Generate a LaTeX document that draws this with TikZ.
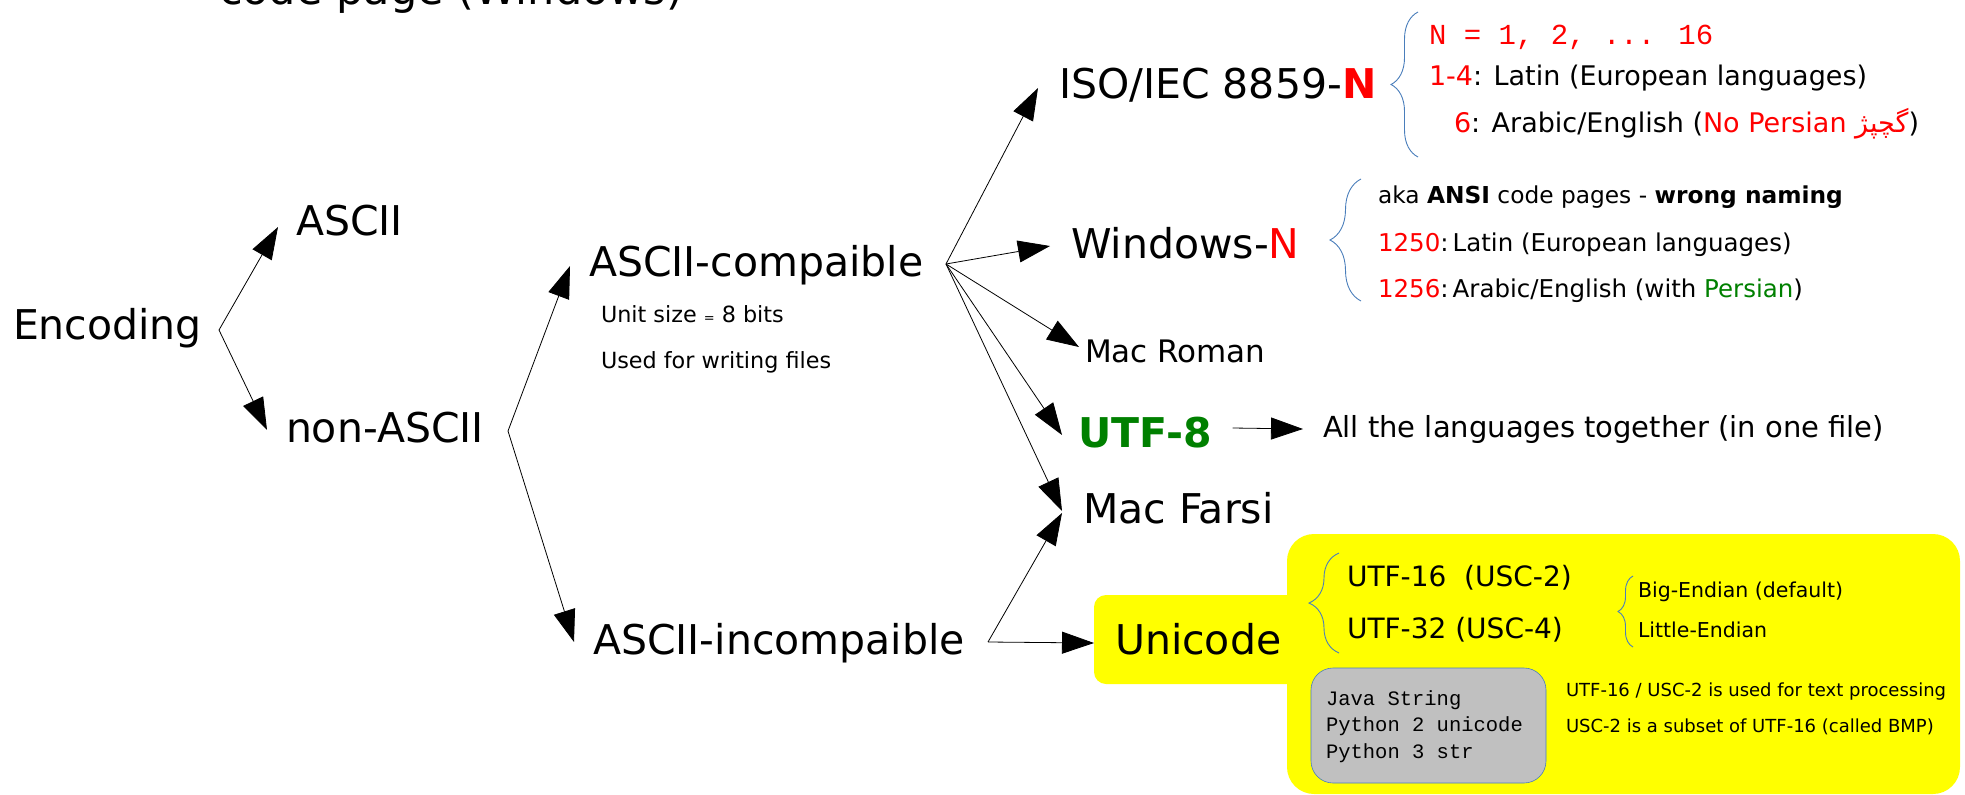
\documentclass[tikz,border=0pt]{standalone}
\usepackage{fontspec}
\setmainfont{DejaVu Sans}
\newfontfamily\monof{Liberation Mono}
\newfontfamily\arabicfont[Script=Arabic]{DejaVu Sans}
\usetikzlibrary{arrows.meta,calc,decorations.pathreplacing}
\TeXXeTstate=1
\newcommand\myfs[1]{\fontsize{#1}{#1}\selectfont}
\definecolor{myred}{HTML}{FF0000}
\definecolor{mygreen}{HTML}{008000}
\definecolor{myyellow}{HTML}{FFFF00}
\definecolor{mygray}{HTML}{C0C0C0}
\definecolor{braceblue}{HTML}{4A7EBB}
\begin{document}
\begin{tikzpicture}[x=1pt,y=-1pt,
  lbl/.style={anchor=base west,inner sep=0pt,outer sep=0pt},
  big/.style={lbl,font=\myfs{41}},
  arr/.style={-{Triangle[length=32pt,width=22pt]},line width=0.8pt},
  bracestyle/.style={draw=braceblue,line width=0.9pt,decorate,decoration={brace,amplitude=#1,aspect=0.5}},
  subA/.style={lbl,font=\myfs{27}},
  subB/.style={lbl,font=\myfs{24.5}},
]
\useasboundingbox (0,0) rectangle (1965,795);

% top partial title
\node[lbl,font=\myfs{43}] (title) at (219,5) {code page (Windows)};

% main labels
\node[big] (enc) at (13,339) {Encoding};
\node[big] (ascii) at (296,235) {ASCII};
\node[big] (nonascii) at (286,442) {non-ASCII};
\node[big] (comp) at (589,276) {ASCII-compaible};
\node[lbl,font=\myfs{22.3}] (unit) at (601,322) {Unit size {\myfs{13}=} 8 bits};
\node[lbl,font=\myfs{22.3}] (used) at (601,368) {Used for writing files};
\node[big] (incomp) at (593,654) {ASCII-incompaible};

\node[big] (iso) at (1059,98) {ISO/IEC 8859-\textcolor{myred}{\bfseries N}};
\node[big] (win) at (1071,258) {Windows-\textcolor{myred}{N}};
\node[lbl,font=\myfs{31}] (macroman) at (1085,362) {Mac Roman};
\node[big,font=\myfs{41}\bfseries,text=mygreen] (utf8) at (1078,447) {UTF-8};
\node[lbl,font=\myfs{29}] (all) at (1323,437) {All the languages together (in one file)};
\node[big] (macfarsi) at (1083,523) {Mac Farsi};

% yellow areas
\fill[myyellow,rounded corners=27pt] (1287,534) rectangle (1960,794);
\fill[myyellow,rounded corners=12pt] (1094,595) rectangle (1310,684);
\node[big] (unicode) at (1115,654) {Unicode};

% gray box
\node[draw=braceblue,line width=0.6pt,fill=mygray,rounded corners=22pt,
      minimum width=235pt,minimum height=115pt,inner sep=0pt] (gray) at (1428.5,725.5) {};
\node[lbl,font=\monof\myfs{20.5}] (java) at (1326,705) {Java String};
\node[lbl,font=\monof\myfs{20.5}] (py2) at (1326,731) {Python 2 unicode};
\node[lbl,font=\monof\myfs{20.5}] (py3) at (1326,758) {Python 3 str};

% ISO details
\node[lbl,font=\monof\myfs{29},text=myred] (isoN) at (1429,44) {N = 1, 2, ... 16};
\node[subA] (iso14) at (1429,85) {\textcolor{myred}{1-4}: Latin (European languages)};
\node[subA] (iso6) at (1454,132) {\textcolor{myred}{6}: Arabic/English (\textcolor{myred}{No Persian {\arabicfont\beginR گچپژ\endR}})};
\draw[bracestyle=27pt] (1418,157) -- (1418,12);

% Windows details
\node[subB,font=\myfs{23.3}] (aka) at (1378,203) {aka \textbf{ANSI} code pages - \textbf{wrong naming}};
\node[subB] (w1250) at (1378,251) {\textcolor{myred}{1250}:\,Latin (European languages)};
\node[subB] (w1256) at (1378,297) {\textcolor{myred}{1256}:\,Arabic/English (with \textcolor{mygreen}{Persian})};
\draw[bracestyle=31pt] (1361,301) -- (1361,179);

% Unicode details
\node[lbl,font=\myfs{28}] (u16) at (1347,586) {UTF-16\ \ (USC-2)};
\node[lbl,font=\myfs{28}] (u32) at (1347,638) {UTF-32 (USC-4)};
\draw[bracestyle=30pt] (1339,653) -- (1339,553);
\node[lbl,font=\myfs{20.5}] (big) at (1638,597) {Big-Endian (default)};
\node[lbl,font=\myfs{20.5}] (little) at (1638,637) {Little-Endian};
\draw[bracestyle=15pt] (1633,647) -- (1633,576);
\node[lbl,font=\myfs{18}] (proc) at (1566,696) {UTF-16 / USC-2 is used for text processing};
\node[lbl,font=\myfs{18}] (bmp) at (1566,732) {USC-2 is a subset of UTF-16 (called BMP)};

% fork points
\coordinate (fE) at (219,330);
\coordinate (fN) at (508,431);
\coordinate (fC) at (946,264);
\coordinate (fI) at (988,642);

% connectors
\draw[arr] (fE) -- ($(ascii.base west)+(-18,-8)$);
\draw[arr] (fE) -- ($(nonascii.base west)+(-19,-12)$);
\draw[arr] (fN) -- ($(comp.base west)+(-19,-10)$);
\draw[arr] (fN) -- ($(incomp.base west)+(-19,-12)$);
\draw[arr] (fC) -- ($(iso.base west)+(-21,-10)$);
\draw[arr] (fC) -- ($(win.base west)+(-21,-12)$);
\draw[arr] (fC) -- ($(macroman.base west)+(-6,-15)$);
\draw[arr] (fC) -- ($(utf8.base west)+(-16,-12)$);
\draw[arr] (fC) -- ($(macfarsi.base west)+(-21,-12)$);
\draw[arr] (fI) -- ($(macfarsi.base west)+(-21,-10)$);
\draw[arr] (fI) -- ($(unicode.base west)+(-21,-11)$);
\draw[arr] ($(utf8.base east)+(21,-19)$) -- ($(all.base west)+(-20,-8)$);
\end{tikzpicture}
\end{document}
